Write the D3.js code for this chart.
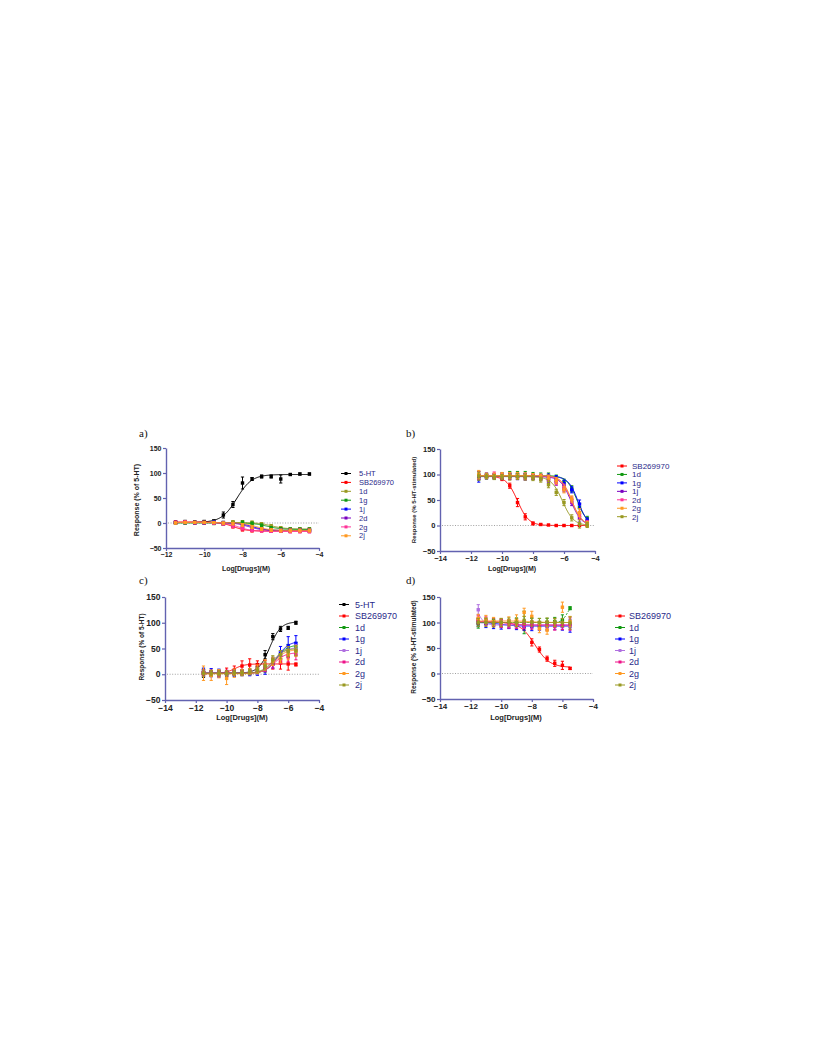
<!DOCTYPE html>
<html><head><meta charset="utf-8">
<script src="https://cdn.jsdelivr.net/npm/d3@7"></script>
<style>body{margin:0;background:#fff}text{font-family:"Liberation Sans",Arial,sans-serif}</style>
</head><body><svg id="c" width="816" height="1056"></svg>
<script>
// ---------- DATA ----------
const xAB = [-11.5,-11,-10.5,-10,-9.5,-9,-8.5,-8,-7.5,-7,-6.5,-6,-5.5,-5,-4.5];
const xCD = [-11.5,-11,-10.5,-10,-9.5,-9,-8.5,-8,-7.5,-7,-6.5,-6,-5.5];
const yTickVals = [-50,0,50,100,150];
const xTicksA = [-12,-10,-8,-6,-4];
const xTicksBCD = [-14,-12,-10,-8,-6,-4];

// Panel a: agonist mode, % of 5-HT
const namesA = ["5-HT","SB269970","1d","1g","1j","2d","2g","2j"];
const a_5HT  = [1,3,2,3,4,16,37,80,88,93,93,88,97,98,98];
const a_SB   = [2,2,1,1,0,-2,-7,-13,-15,-15,-16,-16,-16,-16,-16];
const a_1d   = [1,1,1,1,1,1,2,2,1,-2,-6,-10,-12,-12,-12];
const a_1g   = [0,0,0,0,-1,-2,0,1,-1,-5,-10,-12,-13,-13,-13];
const a_1j   = [1,1,1,1,2,1,-2,-5,-10,-13,-14,-15,-15,-15,-15];
const a_2d   = [1,1,0,0,0,-1,-3,-6,-11,-13,-14,-15,-15,-15,-15];
const a_2g   = [1,2,1,1,0,-2,-6,-11,-14,-15,-16,-16,-17,-17,-17];
const a_2j   = [0,1,1,1,1,0,-1,-4,-8,-12,-14,-15,-15,-15,-15];
const a_err5HT = [2,2,2,2,2,6,6,12,3,3,3,8,2,2,2];
const a_errOther = [2,2,2,2,2,2,3,3,3,3,3,3,3,3,3];
// fit: [start, end, logEC50, hill]
const fitA = [[1,97,-8.3,1.1],[2,-16,-8.5,1.3],[1,-12,-6.5,1.2],[0,-13,-6.7,1.2],[1,-15,-7.5,1.2],[1,-15,-7.7,1.2],[1,-17,-8.2,1.2],[1,-15,-7.3,1.2]];

// Panel b: antagonist mode, % 5-HT-stimulated
const namesB = ["SB269970","1d","1g","1j","2d","2g","2j"];
const b_SB = [97,97,96,92,78,45,17,4,2,1,0,0,0,0,0];
const b_1d = [97,98,96,98,100,100,100,99,98,97,93,85,72,35,13];
const b_1g = [93,96,97,98,97,96,96,95,95,95,92,82,70,42,10];
const b_1j = [98,97,96,95,96,96,95,95,93,90,85,72,45,15,5];
const b_2d = [98,98,100,97,97,98,97,96,95,92,86,75,50,20,5];
const b_2g = [100,97,98,99,98,98,97,97,96,93,88,70,52,25,3];
const b_2j = [97,96,95,95,95,96,95,93,90,80,65,45,15,3,1];
const b_errSB = [4,3,3,4,5,8,6,3,1,1,1,1,1,1,1];
const b_errOther = [8,5,5,5,6,6,6,5,5,6,6,6,6,8,5];
const fitB = [[97,0,-9.0,1.2],[98,0,-5.15,1.3],[96,0,-5.1,1.4],[96,0,-5.55,1.3],[97,0,-5.5,1.3],[98,0,-5.5,1.3],[96,0,-6.1,1.2]];

// Panel c: agonist mode, % of 5-HT
const namesC = ["5-HT","SB269970","1d","1g","1j","2d","2g","2j"];
const c_5HT = [2,2,2,1,2,3,5,13,38,73,88,90,100];
const c_SB  = [3,2,2,4,8,16,18,18,19,20,22,20,19];
const c_1d  = [3,2,3,2,2,3,3,5,12,25,38,48,52];
const c_1g  = [4,3,2,1,2,3,2,4,8,22,42,55,60];
const c_1j  = [2,1,2,2,3,3,4,6,14,25,37,44,48];
const c_2d  = [3,2,2,3,3,4,5,8,13,20,28,34,38];
const c_2g  = [2,-2,1,-8,2,3,5,10,18,25,30,38,45];
const c_2j  = [2,2,2,2,3,3,5,8,16,28,38,44,46];
const c_err5HT = [8,5,5,5,4,4,5,8,8,6,5,3,3];
const c_errSB  = [5,6,6,8,8,10,12,8,8,10,12,12,3];
const c_err1g  = [8,8,8,6,6,6,5,6,8,10,12,18,15];
const c_err2g  = [14,10,8,12,8,6,6,8,10,8,8,10,10];
const c_errOther = [6,5,5,5,5,5,5,6,8,8,8,10,10];
const fitC = [[2,102,-7.2,1.2],[1,20,-9.5,1.3],[2,57,-6.8,1.2],[2,64,-6.7,1.2],[2,52,-6.9,1.2],[2,42,-6.9,1.2],[1,48,-6.9,1.2],[2,50,-7.0,1.2]];

// Panel d: antagonist mode, % 5-HT-stimulated
const namesD = ["SB269970","1d","1g","1j","2d","2g","2j"];
const d_SB = [103,101,99,97,96,95,92,61,47,29,20,16,10];
const d_1d = [97,103,100,100,100,101,100,100,100,100,102,105,128];
const d_1g = [100,98,96,95,96,94,93,92,93,93,94,93,93];
const d_1j = [125,100,98,97,96,95,95,95,94,94,93,93,93];
const d_2d = [105,103,100,98,97,96,96,95,94,94,93,94,97];
const d_2g = [108,106,102,100,103,105,120,112,88,85,100,130,102];
const d_2j = [100,100,99,100,101,100,104,101,100,101,100,100,99];
const d_errSB = [6,5,6,6,6,6,7,7,5,5,6,8,2];
const d_err1d = [8,6,6,6,6,8,22,8,8,8,8,10,3];
const d_err1j = [10,6,6,6,6,6,6,6,6,6,6,6,6];
const d_err2g = [8,8,8,8,8,10,8,10,8,8,8,10,10];
const d_errOther = [8,8,8,8,8,8,8,8,8,8,8,8,12];
const fitD = [[101,12,-7.8,0.9],[100,135,-5.7,2.5],[100,93,-10,1],[140,95,-11.5,2],[102,95,-9.5,1],[103,100,-8,1],[100,100,-8,1]];

// ---------- STYLE ----------
const C = {black:"#000000", red:"#ff0000", olive:"#999922", green:"#119911", blue:"#0000ff",
  purple:"#7a00c0", lpurple:"#b070e0", pink:"#ff3399", magenta:"#ee1188", orange:"#ff9922"};
const axisCol = "#6262b0";

const svg = d3.select("#c");

function fitFn(p){ return x => p[0] + (p[1]-p[0])/(1+Math.pow(10,(p[2]-x)*p[3])); }

function panel(cfg){
  const g = svg.append("g");
  const x = d3.scaleLinear().domain(cfg.xDomain).range(cfg.xRange);
  const y = d3.scaleLinear().domain([-50,150]).range(cfg.yRange);
  // zero dotted line
  g.append("line").attr("x1",x(cfg.xDomain[0])+2).attr("x2",x(-4)).attr("y1",y(0)).attr("y2",y(0))
    .attr("stroke","#888").attr("stroke-width",0.8).attr("stroke-dasharray","1,1.6");
  // axes
  const ya = g.append("g").attr("transform",`translate(${cfg.xRange[0]},0)`)
    .call(d3.axisLeft(y).tickValues(yTickVals).tickSize(3).tickSizeOuter(0).tickPadding(1.5));
  const xa = g.append("g").attr("transform",`translate(0,${cfg.yRange[0]})`)
    .call(d3.axisBottom(x).tickValues(cfg.xTicks).tickSize(3).tickSizeOuter(0).tickPadding(1.5));
  [ya,xa].forEach(a=>{
    a.select(".domain").attr("stroke",axisCol).attr("stroke-width",1.4);
    a.selectAll(".tick line").attr("stroke",axisCol).attr("stroke-width",1.2);
    a.selectAll(".tick text").attr("fill","#222").style("font-size",cfg.tickFs+"px").style("font-weight","bold")
      .style("font-family","Liberation Sans, Arial, sans-serif");
  });
  // titles
  g.append("text").attr("x",cfg.xt[0]).attr("y",cfg.xt[1]).attr("text-anchor","middle")
    .style("font-size",cfg.titleFs+"px").style("font-weight","bold").attr("fill","#222").text("Log[Drugs](M)");
  g.append("text").attr("transform",`translate(${cfg.yt[0]},${cfg.yt[1]}) rotate(-90)`).attr("text-anchor","middle")
    .style("font-size",cfg.yTitleFs+"px").style("font-weight","bold").attr("fill","#222").text(cfg.yTitle);
  // panel label
  g.append("text").attr("x",cfg.lab[0]).attr("y",cfg.lab[1]).style("font-family","Liberation Serif, Times New Roman, serif")
    .style("font-size","11px").attr("fill","#111").text(cfg.label);
  // series
  const xs = cfg.xs;
  const cx0 = xs[0], cx1 = xs[xs.length-1];
  cfg.series.forEach(s=>{
    const f = fitFn(s.fit);
    const pts = d3.range(0,201).map(i=>{const xv = cx0+(cx1-cx0)*i/200; return [xv,f(xv)];});
    g.append("path").attr("d",d3.line().x(d=>x(d[0])).y(d=>y(d[1]))(pts))
      .attr("fill","none").attr("stroke",s.lineColor||s.color).attr("stroke-width",1)
      .attr("stroke-dasharray",s.dash||null);
    s.vals.forEach((v,i)=>{
      const px = x(xs[i]), e = s.err[i];
      g.append("line").attr("x1",px).attr("x2",px).attr("y1",y(v-e)).attr("y2",y(v+e)).attr("stroke",s.color).attr("stroke-width",1);
      [v-e,v+e].forEach(ev=>g.append("line").attr("x1",px-1.6).attr("x2",px+1.6).attr("y1",y(ev)).attr("y2",y(ev)).attr("stroke",s.color).attr("stroke-width",1));
      g.append("rect").attr("x",px-1.7).attr("y",y(v)-1.7).attr("width",3.4).attr("height",3.4).attr("fill",s.color);
    });
  });
  // legend
  const L = cfg.legend;
  cfg.series.forEach((s,i)=>{
    const ly = L.y0 + i*L.dy;
    g.append("line").attr("x1",L.x).attr("x2",L.x+10).attr("y1",ly).attr("y2",ly).attr("stroke",s.color).attr("stroke-width",1);
    g.append("rect").attr("x",L.x+5-1.5).attr("y",ly-1.5).attr("width",3).attr("height",3).attr("fill",s.color);
    g.append("text").attr("x",L.tx).attr("y",ly).attr("dy","0.35em").style("font-size",L.fs+"px")
      .attr("fill","#2a2a8a").text(cfg.names[i]);
  });
}

function mk(names, vals, errs, fits, colors, extra){
  return names.map((n,i)=>Object.assign({vals:vals[i], err:errs[i], fit:fits[i], color:colors[i]}, (extra&&extra[i])||{}));
}

panel({label:"a)", lab:[139,437], xDomain:[-12,-4], xRange:[166,319], yRange:[548,448], xTicks:xTicksA, xs:xAB,
  tickFs:7, titleFs:7, yTitleFs:7, xt:[246,571], yt:[139,500], yTitle:"Response (% of 5-HT)", names:namesA,
  series: mk(namesA,[a_5HT,a_SB,a_1d,a_1g,a_1j,a_2d,a_2g,a_2j],
    [a_err5HT,a_errOther,a_errOther,a_errOther,a_errOther,a_errOther,a_errOther,a_errOther], fitA,
    [C.black,C.red,C.olive,C.green,C.blue,C.purple,C.pink,C.orange]),
  legend:{x:341,tx:359,y0:473.5,dy:8.9,fs:7.5}});

panel({label:"b)", lab:[406,437], xDomain:[-14,-4], xRange:[440,595], yRange:[551,449], xTicks:xTicksBCD, xs:xAB,
  tickFs:7.5, titleFs:7, yTitleFs:6, xt:[512,571], yt:[416,500], yTitle:"Response (% 5-HT-stimulated)", names:namesB,
  series: mk(namesB,[b_SB,b_1d,b_1g,b_1j,b_2d,b_2g,b_2j],
    [b_errSB,b_errOther,b_errOther,b_errOther,b_errOther,b_errOther,b_errOther], fitB,
    [C.red,C.green,C.blue,C.purple,C.pink,C.orange,C.olive]),
  legend:{x:617,tx:632,y0:466,dy:8.45,fs:8}});

panel({label:"c)", lab:[139,584], xDomain:[-14,-4], xRange:[165,319], yRange:[700,597], xTicks:xTicksBCD, xs:xCD,
  tickFs:8.5, titleFs:7.5, yTitleFs:6.5, xt:[242,720], yt:[144,647], yTitle:"Response (% of 5-HT)", names:namesC,
  series: mk(namesC,[c_5HT,c_SB,c_1d,c_1g,c_1j,c_2d,c_2g,c_2j],
    [c_err5HT,c_errSB,c_errOther,c_err1g,c_errOther,c_errOther,c_err2g,c_errOther], fitC,
    [C.black,C.red,C.green,C.blue,C.lpurple,C.magenta,C.orange,C.olive]),
  legend:{x:339,tx:355,y0:604.5,dy:11.5,fs:9}});

panel({label:"d)", lab:[406,584], xDomain:[-14,-4], xRange:[440,593], yRange:[699,597], xTicks:xTicksBCD, xs:xCD,
  tickFs:8, titleFs:7.5, yTitleFs:6.5, xt:[516,720], yt:[416,647], yTitle:"Response (% 5-HT-stimulated)", names:namesD,
  series: mk(namesD,[d_SB,d_1d,d_1g,d_1j,d_2d,d_2g,d_2j],
    [d_errSB,d_err1d,d_errOther,d_err1j,d_errOther,d_err2g,d_errOther], fitD,
    [C.red,C.green,C.blue,C.lpurple,C.magenta,C.orange,C.olive], [null,{dash:"2,1.5"}]),
  legend:{x:615,tx:629,y0:616,dy:11.5,fs:9}});
</script></body></html>
